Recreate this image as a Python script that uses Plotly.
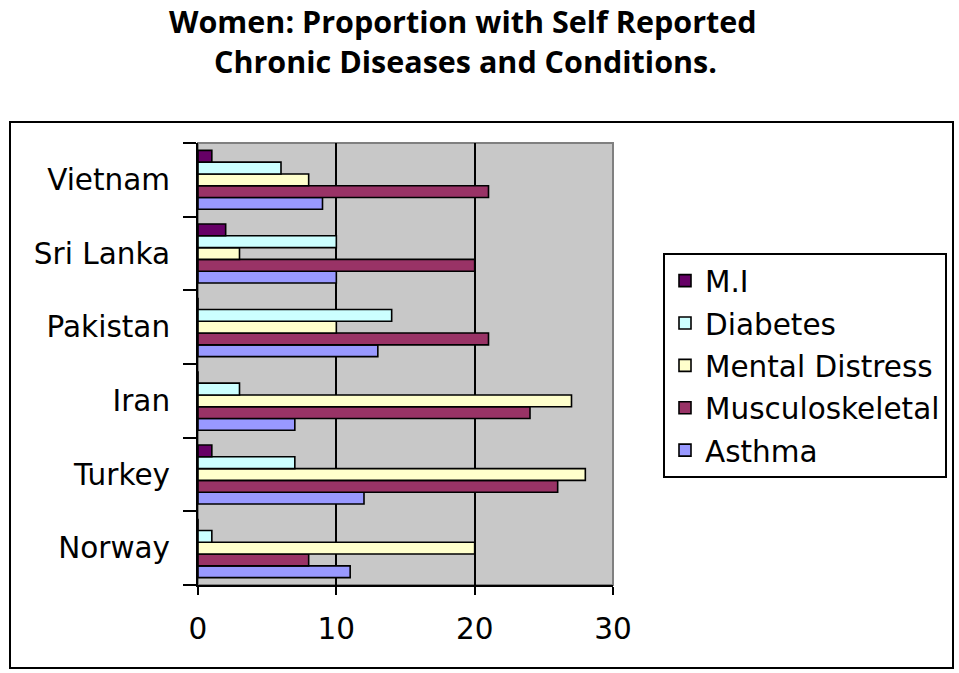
import plotly.graph_objects as go

countries = ["Norway", "Turkey", "Iran", "Pakistan", "Sri Lanka", "Vietnam"]
asthma = [11, 12, 7, 13, 10, 9]
musculoskeletal = [8, 26, 24, 21, 20, 21]
mental_distress = [20, 28, 27, 10, 3, 8]
diabetes = [1, 7, 3, 14, 10, 6]
mi = [0, 1, 0, 0, 2, 1]

series = [
    ("Asthma", asthma, "#9999FF"),
    ("Musculoskeletal", musculoskeletal, "#993366"),
    ("Mental Distress", mental_distress, "#FFFFCC"),
    ("Diabetes", diabetes, "#CCFFFF"),
    ("M.I", mi, "#660066"),
]

W, H = 959, 673
L, R, T, B = 198, 613, 143, 585
pw, ph = R - L, B - T

fig = go.Figure()
n = len(series)
for i, (name, vals, col) in enumerate(series):
    fig.add_trace(go.Bar(
        y=countries, x=vals, name=name, orientation="h",
        legendgroup="g%d" % i,
        legendrank=n - i,
        marker=dict(color=col, line=dict(color="black", width=1.6)),
    ))

def px(x):
    return (x - L) / pw

def py(y):
    return (B - y) / ph

title_font = dict(family="Open Sans", size=30.5, color="black", weight="bold")

fig.update_layout(
    width=W, height=H,
    margin=dict(l=L, r=W - R, t=T, b=H - B, autoexpand=False),
    paper_bgcolor="white",
    plot_bgcolor="#C8C8C8",
    barmode="group",
    bargap=0.2,
    bargroupgap=0,
    font=dict(family="DejaVu Sans", size=29.5, color="black"),
    showlegend=True,
    legend=dict(
        traceorder="grouped",
        x=px(663), y=py(253), xanchor="left", yanchor="top",
        bgcolor="white", bordercolor="black", borderwidth=2,
        font=dict(family="DejaVu Sans", size=29.5),
        tracegroupgap=1,
    ),
    xaxis=dict(
        range=[0, 30], dtick=10, tick0=0,
        showgrid=True, gridcolor="black", gridwidth=2,
        zeroline=False,
        showline=True, linecolor="black", linewidth=2,
        ticks="outside", ticklen=8, tickwidth=2, tickcolor="black",
        ticklabelstandoff=9,
        fixedrange=True,
    ),
    yaxis=dict(
        categoryorder="array", categoryarray=countries,
        tickson="boundaries",
        showline=True, linecolor="black", linewidth=2,
        ticks="outside", ticklen=13, tickwidth=2, tickcolor="black",
        showgrid=False,
        ticklabelstandoff=20,
        fixedrange=True,
    ),
    annotations=[
        dict(text="Women: Proportion with Self Reported", xref="paper", yref="paper",
             x=px(463), y=py(21), xanchor="center", yanchor="middle",
             showarrow=False, font=title_font),
        dict(text="Chronic Diseases and Conditions.", xref="paper", yref="paper",
             x=px(465), y=py(61), xanchor="center", yanchor="middle",
             showarrow=False, font=title_font),
    ],
    shapes=[
        dict(type="rect", xref="paper", yref="paper",
             x0=0, x1=1, y0=0, y1=1,
             line=dict(color="#808080", width=2), layer="below"),
        dict(type="rect", xref="paper", yref="paper",
             x0=px(10), x1=px(953), y0=py(668), y1=py(122),
             line=dict(color="black", width=2), layer="below"),
    ],
)

fig.write_html("out.html", config={"displayModeBar": False},
               post_script="document.body.style.margin='0px';")
